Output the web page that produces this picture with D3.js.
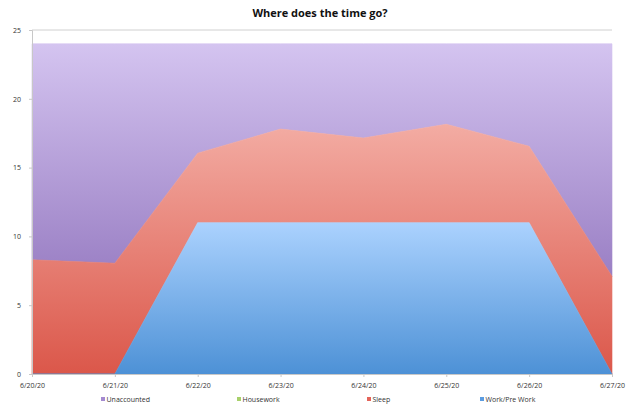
<!DOCTYPE html>
<html><head><meta charset="utf-8">
<script src="https://cdn.jsdelivr.net/npm/d3@7"></script>
<style>body{margin:0;background:#fff;}svg{display:block;font-family:"Open Sans","Liberation Sans",sans-serif;}</style>
</head><body><svg id="c" width="640" height="406"></svg>
<script>
const dates = ["6/20/20","6/21/20","6/22/20","6/23/20","6/24/20","6/25/20","6/26/20","6/27/20"];
const work = [0, 0, 11, 11, 11, 11, 11, 0];
const housework = [0, 0, 0, 0, 0, 0, 0, 0];
const sleep = [8.3, 8.05, 5.05, 6.8, 6.15, 7.15, 5.55, 7.1];
const unaccounted = [15.7, 15.95, 7.95, 6.2, 6.85, 5.85, 7.45, 16.9];
const yTicks = [0, 5, 10, 15, 20, 25];
const seriesNames = ["Work/Pre Work", "Housework", "Sleep", "Unaccounted"];
const legendOrder = ["Unaccounted", "Housework", "Sleep", "Work/Pre Work"];
const colors = {"Work/Pre Work":["#abd2fe","#4d91d6"], "Housework":["#cfe6a0","#93c04a"], "Sleep":["#f3aca3","#db574a"], "Unaccounted":["#d4c4f0","#9a7fc4"]};
const legendColors = {"Unaccounted":"#a48ad0","Housework":"#a8d06a","Sleep":"#e4645a","Work/Pre Work":"#5b9ce0"};

const svg = d3.select("#c");
const m = {l:32, r:28, t:30, b:32};
const W = 640, H = 406;
const x = d3.scalePoint().domain(dates).range([m.l, W - m.r]);
const y = d3.scaleLinear().domain([0, 25]).range([H - m.b, m.t]);

const rows = dates.map((d,i)=>({date:d, "Work/Pre Work":work[i], "Housework":housework[i], "Sleep":sleep[i], "Unaccounted":unaccounted[i]}));
const stack = d3.stack().keys(seriesNames)(rows);

const defs = svg.append("defs");
seriesNames.forEach((k,i)=>{
  const g = defs.append("linearGradient").attr("id","g"+i).attr("x1",0).attr("y1",0).attr("x2",0).attr("y2",1);
  g.append("stop").attr("offset","0%").attr("stop-color",colors[k][0]);
  g.append("stop").attr("offset","100%").attr("stop-color",colors[k][1]);
});

svg.append("text").attr("x",320).attr("y",17).attr("text-anchor","middle")
  .attr("font-size",11).attr("font-weight","bold").attr("fill","#111").text("Where does the time go?");

// top gridline
svg.append("line").attr("x1",m.l).attr("x2",W-m.r).attr("y1",y(25)).attr("y2",y(25)).attr("stroke","#d0d0d0").attr("stroke-width",1);

const area = d3.area().x(d=>x(d.data.date)).y0(d=>y(d[0])).y1(d=>y(d[1]));
// draw top-down so lower series overlap seams
stack.slice().reverse().forEach((s)=>{
  const i = stack.indexOf(s);
  if (d3.max(s, d=>d[1]-d[0]) === 0) return;
  svg.append("path").datum(s).attr("d",area).attr("fill","url(#g"+i+")")
    .attr("stroke","url(#g"+i+")").attr("stroke-width",0.6).attr("stroke-linejoin","round");
});

// axes
const ya = svg.append("g").attr("transform",`translate(${m.l},0)`)
  .call(d3.axisLeft(y).tickValues(yTicks).tickSize(3).tickPadding(8));
ya.select(".domain").attr("stroke","#c8c8c8");
ya.selectAll(".tick line").attr("stroke","#c8c8c8");
ya.selectAll("text").attr("font-size",7).attr("fill","#333").attr("font-family","Open Sans, sans-serif");

const xa = svg.append("g").attr("transform",`translate(0,${y(0)})`)
  .call(d3.axisBottom(x).tickSize(3).tickPadding(6));
xa.select(".domain").attr("stroke","#c8c8c8");
xa.selectAll(".tick line").attr("stroke","#c8c8c8");
xa.selectAll("text").attr("font-size",7).attr("fill","#333").attr("font-family","Open Sans, sans-serif");

// legend
const legX = [101, 237, 367, 480];
const lg = svg.append("g");
legendOrder.forEach((k,i)=>{
  lg.append("rect").attr("x",legX[i]).attr("y",397).attr("width",4).attr("height",4).attr("fill",legendColors[k]);
  lg.append("text").attr("x",legX[i]+5.5).attr("y",402).attr("font-size",7).attr("fill","#333").text(k);
});
</script></body></html>
